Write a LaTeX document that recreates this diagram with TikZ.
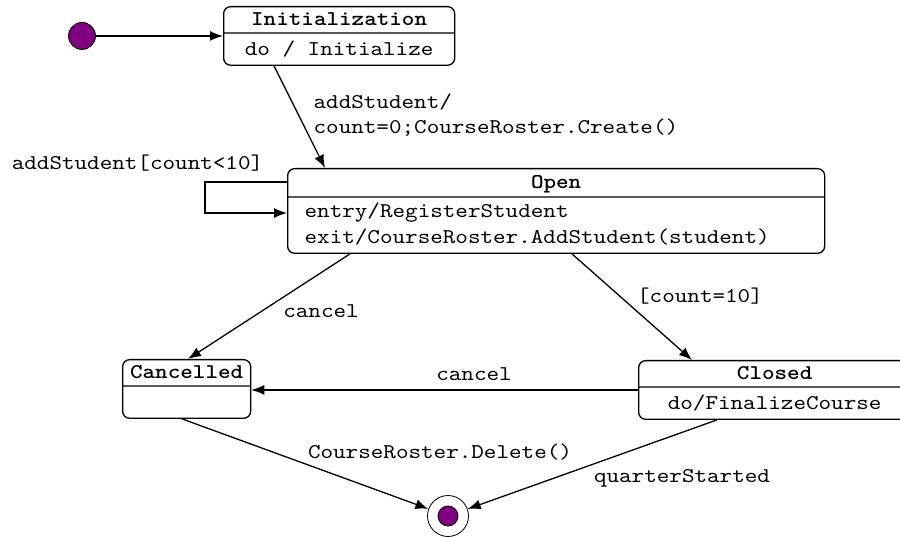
\documentclass[tikz,border=0pt]{standalone}
\usepackage{fontspec}
\setmonofont{lmmono10-regular.otf}[FakeStretch=1.14,BoldFont=lmmonolt10-bold.otf]
\usetikzlibrary{
  arrows.meta,
  shapes.multipart,
}
\definecolor{dotpurple}{RGB}{128,0,128}
\newcommand\hstrut{\rule[-5pt]{0pt}{22pt}}
\newcommand\dstrut{\rule[-8pt]{0pt}{28pt}}

\begin{document}
\begin{tikzpicture}[
  x=1pt, y=-1pt,
  line width=1.3pt,
  font=\fontsize{21}{25}\selectfont\ttfamily,
  >={Latex[length=13pt,width=10pt]},
  state/.style={
     rectangle split,
     rectangle split parts=2,
     draw,
     rounded corners=7pt,
     inner xsep=4pt,
     inner ysep=1.5pt,
     anchor=north west,
  },
  pseudo/.style={
     circle,
     draw,
     fill=dotpurple,
     minimum size=27pt,
     inner sep=0pt,
     line width=0.8pt,
  },
  lbl/.style={inner sep=0pt, align=left},
]
   \useasboundingbox (0,0) rectangle (900,537);
   \clip (0,0) rectangle (900,537);
   \node[state,minimum width=231pt] (init) at (223,6)
     {\textbf{Initialization}\hstrut \nodepart{two} do / Initialize\dstrut};
   \node[pseudo] (start) at (init.west -| 82,0) {};
   \node[state,minimum width=537pt,inner xsep=17pt,
     rectangle split part align={center,left}] (open) at (287,168)
     {\textbf{Open}\rule[-6pt]{0pt}{24pt} \nodepart{two}
      \def\arraystretch{1.04}%
      \begin{tabular}{@{}l@{}}entry/RegisterStudent\\exit/CourseRoster.AddStudent(student)\end{tabular}};
   \node[state,minimum width=128pt] (cancelled) at (122,359)
     {\textbf{Cancelled}\hstrut \nodepart{two} \dstrut};
   \node[state,minimum width=272pt] (closed) at (638,360)
     {\textbf{Closed}\hstrut \nodepart{two} do/FinalizeCourse\dstrut};
   \node[circle,draw,minimum size=41pt,inner sep=0pt,line width=0.8pt] (final) at (448,516) {};
   \node[pseudo,minimum size=20pt] (finaldot) at (final) {};

   \draw[->] (start) -- (init);
   \draw[->] ([xshift=51pt]init.south west) -- ([xshift=38pt]open.north west);
   \draw[->] ([yshift=-14pt]open.north west) -- ++(-82,0) |- ([yshift=-45pt]open.north west);
   \draw[->] ([xshift=63pt]open.south west) -- ([xshift=66pt]cancelled.north west);
   \draw[->] ([xshift=285pt]open.south west) -- ([xshift=54pt]closed.north west);
   \draw[->] (closed.west) -- (closed.west -| cancelled.east);
   \draw[->] ([xshift=60pt]cancelled.south west) -- (final);
   \draw[->] ([xshift=79pt]closed.south west) -- (final);

   \node[lbl,anchor=west] (lcreate) at (313,115.5) {addStudent/\\count=0;CourseRoster.Create()};
   \node[lbl] (lloop) at (137.5,163) {addStudent[count<10]};
   \node[lbl] (lcancelopen) at (321,311) {cancel};
   \node[lbl] (lfull) at (700,296) {[count=10]};
   \node[lbl] (lcancelclosed) at (474,374) {cancel};
   \node[lbl] (ldelete) at (440,452) {CourseRoster.Delete()};
   \node[lbl] (lstarted) at (682,478) {quarterStarted};
\end{tikzpicture}
\end{document}
